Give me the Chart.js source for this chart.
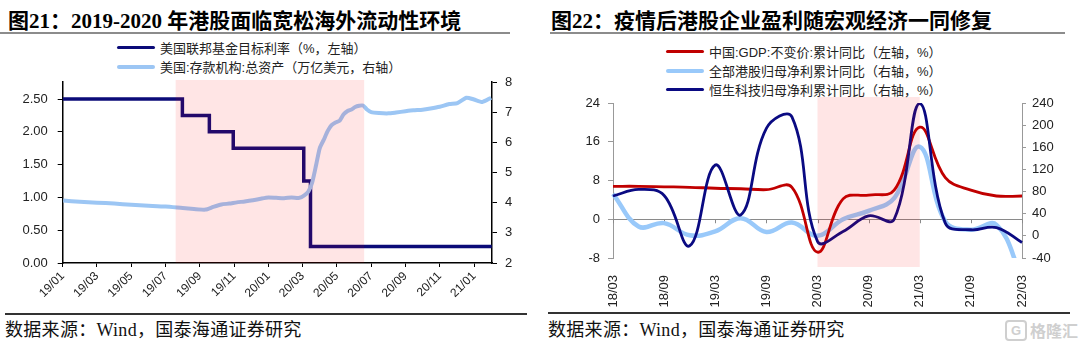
<!DOCTYPE html>
<html>
<head>
<meta charset="utf-8">
<script src="https://cdn.jsdelivr.net/npm/chart.js@4.4.1/dist/chart.umd.min.js"></script>
<style>
  body { margin: 0; background: #fff; width: 1080px; height: 346px; position: relative; overflow: hidden; }
  .title { position: absolute; top: 4px; font-family: "Liberation Serif", "Noto Sans CJK SC", serif; font-weight: bold; font-size: 21px; color: #000; white-space: nowrap; }
  .rule { position: absolute; height: 2px; background: #8c8c8c; }
  .foot-rule { position: absolute; height: 1.5px; background: #333; }
  .source { position: absolute; top: 315px; font-family: "Liberation Serif", "Noto Sans CJK SC", serif; font-size: 18px; letter-spacing: 0.3px; color: #111; white-space: nowrap; }
  .legend { position: absolute; font-family: "Liberation Sans", "Noto Sans CJK SC", sans-serif; font-size: 13px; color: #222; }
  .legend div { display: flex; align-items: center; height: 19px; white-space: nowrap; }
  .legend .swatch { display: inline-block; width: 38px; margin-right: 5px; border-radius: 2px; }
  canvas { position: absolute; }
  .mark { position: absolute; left: 1005px; top: 318px; color: #cfcfcf; font-family: "Noto Sans CJK SC", sans-serif; font-weight: bold; font-size: 16px; display: flex; align-items: center; }
  .mark b { display: inline-block; width: 18px; height: 17px; border: 2px solid #cfcfcf; border-radius: 4px; font-size: 13px; line-height: 17px; text-align: center; margin-right: 3px; font-family: "Liberation Sans", sans-serif; }
</style>
</head>
<body>
<div class="title" style="left:8px">图21：2019-2020 年港股面临宽松海外流动性环境</div>
<div class="rule" style="left:0;top:32px;width:510px"></div>
<div class="title" style="left:551px">图22：疫情后港股企业盈利随宏观经济一同修复</div>
<div class="rule" style="left:550px;top:32px;width:515px"></div>

<div class="legend" id="legend1" style="left:117px;top:38px"></div>
<div class="legend" id="legend2" style="left:666px;top:42px"></div>

<canvas id="c1" width="530" height="275" style="left:0;top:40px"></canvas>
<canvas id="c2" width="540" height="232" style="left:540px;top:80px"></canvas>

<div class="foot-rule" style="left:5px;top:313px;width:522px"></div>
<div class="foot-rule" style="left:548px;top:312px;width:522px"></div>
<div class="source" style="left:5px">数据来源：Wind，国泰海通证券研究</div>
<div class="source" style="left:548px">数据来源：Wind，国泰海通证券研究</div>
<div class="mark"><b>G</b>格隆汇</div>

<script>
// 图21: 美国联邦基金目标利率（上限）与存款机构总资产
const leftNames = ['美国联邦基金目标利率（%，左轴）', '美国:存款机构:总资产（万亿美元，右轴）'];
const rateDates = ['2019-01-01', '2019-07-31', '2019-09-18', '2019-10-30', '2020-03-03', '2020-03-15', '2021-02-02'];
const rateValues = [2.50, 2.25, 2.00, 1.75, 1.25, 0.25, 0.25];
const assetDates = [
  '2019-01-02', '2019-02-01', '2019-03-01', '2019-04-01', '2019-05-01', '2019-06-01', '2019-07-01',
  '2019-08-01', '2019-08-21', '2019-09-11', '2019-09-25', '2019-10-09', '2019-10-23', '2019-11-06',
  '2019-11-20', '2019-12-04', '2019-12-18', '2020-01-01', '2020-01-15', '2020-01-29', '2020-02-12',
  '2020-02-26', '2020-03-04', '2020-03-11', '2020-03-18', '2020-03-25', '2020-04-01', '2020-04-08',
  '2020-04-15', '2020-04-22', '2020-04-29', '2020-05-06', '2020-05-13', '2020-05-20', '2020-05-27',
  '2020-06-03', '2020-06-10', '2020-06-17', '2020-06-24', '2020-07-01', '2020-07-15', '2020-08-01',
  '2020-08-15', '2020-09-01', '2020-09-15', '2020-10-01', '2020-10-15', '2020-11-01', '2020-11-18',
  '2020-12-02', '2020-12-18', '2021-01-01', '2021-01-16', '2021-02-01'
];
const assetValues = [
  4.07, 4.03, 4.00, 3.97, 3.93, 3.90, 3.87,
  3.82, 3.79, 3.77, 3.86, 3.94, 3.97, 4.01,
  4.04, 4.08, 4.13, 4.17, 4.16, 4.15, 4.17,
  4.16, 4.24, 4.36, 4.67, 5.25, 5.81, 6.08,
  6.37, 6.57, 6.66, 6.72, 6.93, 7.04, 7.09,
  7.17, 7.21, 7.22, 7.09, 7.00, 6.97, 6.96,
  6.99, 7.03, 7.06, 7.08, 7.12, 7.18, 7.27,
  7.30, 7.48, 7.42, 7.34, 7.48
];
const leftXTicks = ['19/01', '19/03', '19/05', '19/07', '19/09', '19/11', '20/01', '20/03', '20/05', '20/07', '20/09', '20/11', '21/01'];
const leftShade = ['2019-07-19', '2020-06-19'];

// 图22: GDP 与港股盈利累计同比
const rightNames = ['中国:GDP:不变价:累计同比（左轴，%）', '全部港股归母净利累计同比（右轴，%）', '恒生科技归母净利累计同比（右轴，%）'];
const quarters = ['18/03', '18/06', '18/09', '18/12', '19/03', '19/06', '19/09', '19/12', '20/03', '20/06', '20/09', '20/12', '21/03', '21/06', '21/09', '21/12', '22/03'];
const gdpYoY = [6.8, 6.8, 6.7, 6.6, 6.4, 6.3, 6.1, 6.6, -6.8, 4.2, 5.0, 6.0, 19.0, 8.6, 6.0, 4.8, 4.8];
const hkProfitYoY = [76, 17, 23, 1, 8, 32, 7, 24, 0, 30, 45, 68, 161, 26, 11, 20, -75];
const hstechProfitYoY = [72, 84, 73, -18, 128, 38, 194, 215, -10, 8, 36, 30, 239, 23, 11, 15, -12];
const rightXTicks = ['18/03', '18/09', '19/03', '19/09', '20/03', '20/09', '21/03', '21/09', '22/03'];
const rightShade = ['20/03', '21/03'];

const leftColors = ['#0b0b78', '#9cc6f4'];
const rightColors = ['#c00000', '#99c9fa', '#0a0a82'];

Chart.defaults.font.family = '"Liberation Sans", Arial, sans-serif';
Chart.defaults.color = '#222';

function monthIndex(d) {
  const [y, m, dd] = d.split('-').map(Number);
  return (y - 2019) * 12 + (m - 1) + (dd - 1) / 30.5;
}
function labelToMonth(t) {
  const [yy, mm] = t.split('/').map(Number);
  return (yy - 19) * 12 + (mm - 1);
}
function monthToLabel(v) {
  const yy = 19 + Math.floor(v / 12);
  const mm = Math.round(v - (yy - 19) * 12) + 1;
  return yy + '/' + String(mm).padStart(2, '0');
}

// 粉色阴影，叠在线上方
function shadePlugin(from, to, padTop, padBottom) {
  return {
    id: 'shade',
    afterDatasetsDraw(chart) {
      const xs = chart.scales.x, a = chart.chartArea, ctx = chart.ctx;
      const x0 = xs.getPixelForValue(from), x1 = xs.getPixelForValue(to);
      ctx.save();
      ctx.fillStyle = 'rgba(255,0,0,0.1)';
      ctx.fillRect(x0, a.top - padTop, x1 - x0, a.bottom - a.top + padTop + padBottom);
      ctx.restore();
    }
  };
}

function buildLegend(el, names, colors, widths) {
  names.forEach((n, i) => {
    const row = document.createElement('div');
    const sw = document.createElement('span');
    sw.className = 'swatch';
    sw.style.height = widths[i] + 'px';
    sw.style.background = colors[i];
    row.appendChild(sw);
    row.appendChild(document.createTextNode(n));
    el.appendChild(row);
  });
}
buildLegend(document.getElementById('legend1'), leftNames, leftColors, [3, 4]);
buildLegend(document.getElementById('legend2'), rightNames, rightColors, [3, 4, 3]);

const tickFont = { size: 13 };

new Chart(document.getElementById('c1'), {
  type: 'line',
  data: {
    datasets: [{
      label: leftNames[0],
      data: rateDates.map((d, i) => ({ x: monthIndex(d), y: rateValues[i] })),
      borderColor: leftColors[0],
      borderWidth: 3.5,
      stepped: true,
      pointRadius: 0,
      yAxisID: 'y',
      order: 1
    }, {
      label: leftNames[1],
      data: assetDates.map((d, i) => ({ x: monthIndex(d), y: assetValues[i] })),
      borderColor: leftColors[1],
      borderWidth: 4,
      tension: 0.2,
      pointRadius: 0,
      yAxisID: 'y1',
      order: 0
    }]
  },
  options: {
    responsive: false,
    animation: false,
    layout: { padding: { top: 42 } },
    plugins: { legend: { display: false }, tooltip: { enabled: false } },
    scales: {
      x: {
        type: 'linear',
        min: 0,
        max: 25.05,
        afterBuildTicks: s => { s.ticks = leftXTicks.map(t => ({ value: labelToMonth(t) })); },
        afterFit: s => { s.height = 52; },
        ticks: { autoSkip: false, minRotation: 45, maxRotation: 45, padding: 2, font: { size: 12 }, callback: v => monthToLabel(v) },
        grid: { drawOnChartArea: false, color: '#000', tickLength: 4 },
        border: { color: '#000', width: 1.5 }
      },
      y: {
        position: 'left',
        min: 0,
        max: 2.76,
        afterBuildTicks: s => { s.ticks = s.ticks.filter(t => Math.abs(t.value * 2 - Math.round(t.value * 2)) < 1e-6); },
        afterFit: s => { s.width = 62.7; },
        ticks: { stepSize: 0.5, padding: 10, font: tickFont, callback: v => v.toFixed(2) },
        grid: { drawOnChartArea: false, color: '#000', tickLength: 5 },
        border: { color: '#000', width: 1.5 }
      },
      y1: {
        position: 'right',
        min: 2,
        max: 8,
        afterFit: s => { s.width = 38; },
        ticks: { stepSize: 1, padding: 8, font: tickFont },
        grid: { drawOnChartArea: false, color: '#000', tickLength: 5 },
        border: { color: '#000', width: 1.5 }
      }
    }
  },
  plugins: [shadePlugin(monthIndex(leftShade[0]), monthIndex(leftShade[1]), 2, 0)]
});

const zeroTicks = {
  id: 'zeroTicks',
  beforeDatasetsDraw(chart) {
    const xs = chart.scales.x, ys = chart.scales.y, ctx = chart.ctx;
    const y0 = ys.getPixelForValue(0);
    ctx.save();
    ctx.strokeStyle = '#8a8a8a';
    ctx.lineWidth = 1;
    rightXTicks.forEach(t => {
      const x = Math.round(xs.getPixelForValue(quarters.indexOf(t))) + 0.5;
      ctx.beginPath();
      ctx.moveTo(x, y0);
      ctx.lineTo(x, y0 + 4);
      ctx.stroke();
    });
    ctx.restore();
  }
};

new Chart(document.getElementById('c2'), {
  type: 'line',
  data: {
    labels: quarters,
    datasets: [{
      label: rightNames[0],
      data: gdpYoY,
      borderColor: rightColors[0],
      borderWidth: 2.8,
      tension: 0.4,
      pointRadius: 0,
      yAxisID: 'y',
      order: 1
    }, {
      label: rightNames[1],
      data: hkProfitYoY,
      borderColor: rightColors[1],
      borderWidth: 4.5,
      tension: 0.4,
      pointRadius: 0,
      yAxisID: 'y1',
      order: 2
    }, {
      label: rightNames[2],
      data: hstechProfitYoY,
      borderColor: rightColors[2],
      borderWidth: 2.8,
      tension: 0.4,
      pointRadius: 0,
      yAxisID: 'y1',
      order: 0
    }]
  },
  options: {
    responsive: false,
    animation: false,
    layout: { padding: { top: 23 } },
    plugins: { legend: { display: false }, tooltip: { enabled: false } },
    scales: {
      x: {
        offset: false,
        afterFit: s => { s.height = 54; },
        ticks: {
          autoSkip: false, minRotation: 90, maxRotation: 90, padding: 9, font: tickFont,
          callback: v => rightXTicks.includes(quarters[v]) ? quarters[v] : ''
        },
        grid: { display: false },
        border: { display: false }
      },
      y: {
        position: 'left',
        min: -8,
        max: 24,
        afterFit: s => { s.width = 73; },
        ticks: { stepSize: 8, padding: 8, font: tickFont },
        grid: { color: c => c.tick && c.tick.value === 0 ? '#8a8a8a' : 'rgba(0,0,0,0)', tickColor: '#999', tickLength: 5 },
        border: { color: '#999', width: 1 }
      },
      y1: {
        position: 'right',
        min: -40,
        max: 240,
        afterFit: s => { s.width = 58; },
        ticks: { stepSize: 40, padding: 6, font: tickFont },
        grid: { drawOnChartArea: false, tickColor: '#999', tickLength: 4 },
        border: { color: '#999', width: 1 }
      }
    }
  },
  plugins: [zeroTicks, shadePlugin(quarters.indexOf(rightShade[0]), quarters.indexOf(rightShade[1]), 6, 9)]
});
</script>
</body>
</html>
